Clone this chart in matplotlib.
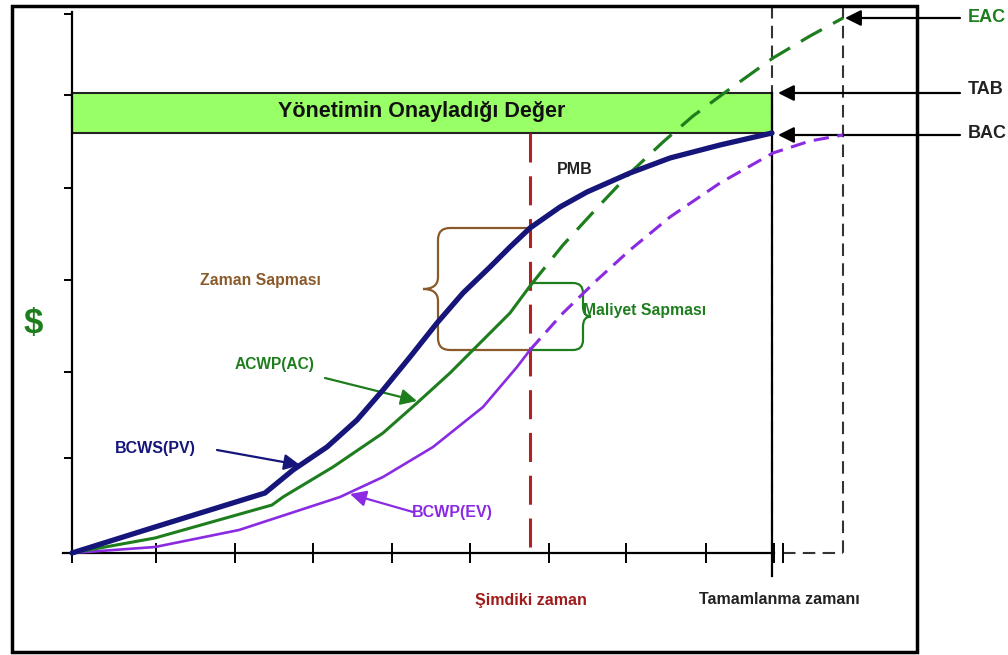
import numpy as np
import matplotlib.pyplot as plt
from matplotlib.patches import Rectangle, PathPatch
from matplotlib.path import Path

# time / cost values (arbitrary units, no numbers on the axes)
time_ticks = [0, 84, 163, 241, 320, 398, 477, 554, 634, 702, 711]
cost_ticks = [95, 181, 273, 365, 458, 539]

pv_t = [0, 83, 193, 221, 255, 285, 311, 338, 365, 391, 418, 438, 458, 488, 515, 558, 598, 648, 700]
pv_v = [0, 26, 60, 83, 106, 133, 163, 196, 230, 260, 286, 306, 325, 346, 361, 380, 395, 408, 420]

ac_t = [0, 83, 200, 211, 261, 311, 345, 378, 411, 438, 458]
ac_v = [0, 15, 48, 56, 86, 120, 150, 180, 213, 240, 267]
ac_fc_t = [458, 491, 525, 558, 591, 621, 655, 701, 738, 771]
ac_fc_v = [267, 308, 345, 380, 411, 437, 462, 495, 517, 535]

ev_t = [0, 83, 167, 268, 311, 361, 411, 445, 458]
ev_v = [0, 6, 23, 56, 76, 106, 146, 186, 203]
ev_fc_t = [458, 491, 525, 558, 598, 648, 701, 738, 771]
ev_fc_v = [203, 240, 273, 303, 336, 370, 400, 412, 418]

t_now = 458
t_complete = 700
t_eac = 771
bac = 420
tab = 460
eac = 535

navy = '#15157A'
green = '#1E7E1E'
purple = '#8A2BE2'
brown = '#8B5A2B'
red = '#B22222'
font = ['Liberation Sans', 'DejaVu Sans']


def brace(ax, x0, x_side, y_top, y_bot, r, tip, color):
    s = np.sign(x_side - x0)
    ym = (y_top + y_bot) / 2
    verts = [(x0, y_top), (x_side - s * r, y_top),
             (x_side, y_top), (x_side, y_top - r),
             (x_side, ym + r),
             (x_side, ym), (x_side + s * tip, ym),
             (x_side, ym), (x_side, ym - r),
             (x_side, y_bot + r),
             (x_side, y_bot), (x_side - s * r, y_bot),
             (x0, y_bot)]
    codes = [Path.MOVETO, Path.LINETO, Path.CURVE3, Path.CURVE3, Path.LINETO,
             Path.CURVE3, Path.CURVE3, Path.CURVE3, Path.CURVE3, Path.LINETO,
             Path.CURVE3, Path.CURVE3, Path.LINETO]
    ax.add_patch(PathPatch(Path(verts, codes), fill=False, edgecolor=color, lw=1.6, zorder=2))


def arrow(ax, text_xy, head_xy, color, lw=1.6):
    ax.annotate('', xy=head_xy, xytext=text_xy,
                arrowprops=dict(arrowstyle='-|>', color=color, lw=lw, mutation_scale=24,
                                shrinkA=0, shrinkB=0), annotation_clip=False)


def label(ax, x, y, s, color, size=11.5, ha='center'):
    ax.text(x, y, s, color=color, fontsize=size, fontweight='bold', family=font, ha=ha, va='center')


fig = plt.figure(figsize=(10.08, 6.55), dpi=100)
ax = fig.add_axes([0, 0, 1, 1])
ax.set_xlim(-72, 936)
ax.set_ylim(-102, 553)

# outer frame
fig.patches.append(Rectangle((12 / 1008, 3 / 655), 905 / 1008, 646 / 655, transform=fig.transFigure,
                             fill=False, edgecolor='black', lw=2.5))

# axes lines and ticks
for side in ['top', 'right']:
    ax.spines[side].set_visible(False)
ax.spines['left'].set_position(('data', 0))
ax.spines['bottom'].set_position(('data', 0))
ax.spines['left'].set_bounds(0, 541)
ax.spines['bottom'].set_bounds(-9, t_complete + 2)
ax.spines['left'].set_linewidth(1.6)
ax.spines['bottom'].set_linewidth(1.6)
ax.set_xticks(time_ticks)
ax.set_yticks(cost_ticks)
ax.tick_params(axis='x', direction='inout', length=14, width=1.4)
ax.tick_params(axis='y', direction='out', length=6, width=1.4)
ax.tick_params(labelbottom=False, labelleft=False)

# management reserve box
ax.add_patch(Rectangle((0, bac), t_complete, tab - bac, facecolor='#99FF66', edgecolor='#222222',
                       lw=1.5, zorder=1))
ax.text(t_complete / 2, (bac + tab) / 2 + 1, 'Yönetimin Onayladığı Değer', ha='center', va='center',
        fontsize=15.5, fontweight='bold', family=font, color='#111111')

# completion / EAC boundaries
ax.plot([t_complete, t_complete], [547, 0], color='#333333', lw=1.5, dashes=(6, 3.5), zorder=1)
ax.plot([t_complete, t_complete], [tab, -23], color='black', lw=1.6, zorder=1)
ax.plot([t_eac, t_eac], [547, 0], color='#333333', lw=1.5, dashes=(6, 3.5), zorder=1)
ax.plot([time_ticks[-1], t_eac], [0, 0], color='#333333', lw=1.5, dashes=(6, 3.5), zorder=1)

# status date
ax.plot([t_now, t_now], [bac, 0], color=red, lw=2.2, dashes=(9.5, 4.5), zorder=3)

# braces
pv_now = np.interp(t_now, pv_t, pv_v)
ac_now = np.interp(t_now, ac_t, ac_v)
ev_now = np.interp(t_now, ev_t, ev_v)
brace(ax, t_now, 366, pv_now, ev_now, 12, 15, brown)
brace(ax, t_now, 511, ac_now + 3, ev_now, 10, 8, green)

# curves
ax.plot(ac_fc_t, ac_fc_v, color=green, lw=2.3, dashes=(7.5, 4), zorder=4)
ax.plot(ev_fc_t, ev_fc_v, color=purple, lw=2.2, dashes=(5, 2.8), zorder=4)
ax.plot(ev_t, ev_v, color=purple, lw=1.9, zorder=5, solid_joinstyle='round')
ax.plot(ac_t, ac_v, color=green, lw=2.2, zorder=5, solid_joinstyle='round')
ax.plot(pv_t, pv_v, color=navy, lw=3.8, zorder=6, solid_capstyle='round', solid_joinstyle='round')

# labels
label(ax, 188, 272, 'Zaman Sapması', brown, 11.3)
label(ax, 511, 243, 'Maliyet Sapması', green, 11.3, ha='left')
label(ax, 503, 383, 'PMB', '#222222')
label(ax, 203, 188, 'ACWP(AC)', green, 11.2)
label(ax, 83, 105, 'BCWS(PV)', navy)
label(ax, 380, 41, 'BCWP(EV)', purple)
label(ax, t_now + 1, -47, 'Şimdiki zaman', '#A01C1C')
label(ax, t_complete + 7, -47, 'Tamamlanma zamanı', '#222222')
label(ax, -39, 229, '$', green, 25)

arrow(ax, (145, 103), (228, 88), navy)
arrow(ax, (253, 175), (345, 152), green)
arrow(ax, (341, 41), (278, 59), purple)

# right-hand value markers
arrow(ax, (888, eac), (t_eac + 2, eac), 'black')
arrow(ax, (888, tab), (t_complete + 6, tab), 'black')
arrow(ax, (888, bac - 2), (t_complete + 6, bac - 2), 'black')
label(ax, 896, eac, 'EAC', green, 13, ha='left')
label(ax, 896, tab + 3, 'TAB', '#222222', 13, ha='left')
label(ax, 896, bac, 'BAC', '#222222', 13, ha='left')

fig.savefig('out.png', dpi=100)
